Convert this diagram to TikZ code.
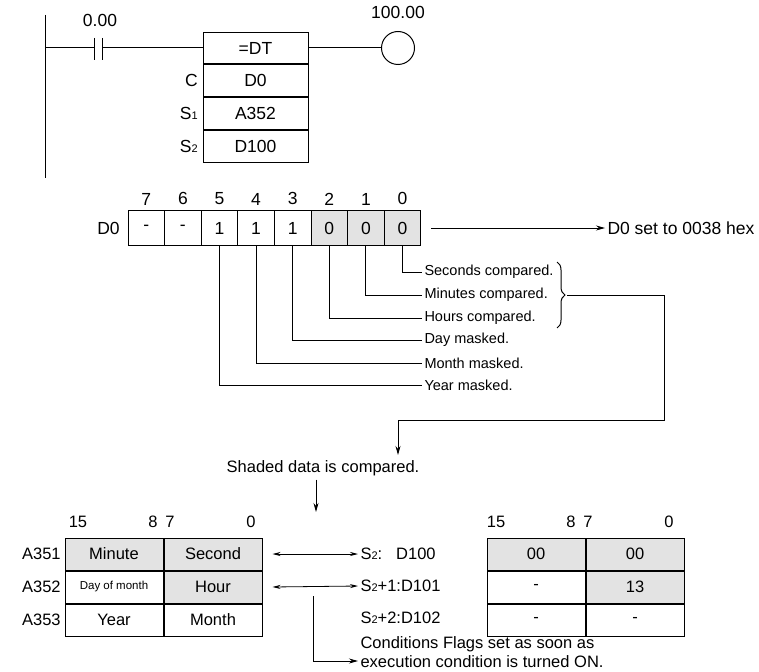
\documentclass[tikz,border=0pt]{standalone}
\usepackage{fontspec}
\setmainfont{Liberation Sans}
\usepackage{tikz}
\usetikzlibrary{arrows.meta,positioning,decorations.pathreplacing}
\newcommand{\sub}[1]{{\fontsize{11}{11}\selectfont #1}}
\begin{document}
\begin{tikzpicture}[x=1pt,y=-1pt,line width=1pt,
  every node/.style={font=\fontsize{17.5}{19}\selectfont},
  cell/.style={draw,minimum width=36.6pt,minimum height=35pt,inner sep=0pt},
  shd/.style={fill=gray!22},
  ins/.style={draw,minimum width=105pt,minimum height=31.75pt,inner sep=0pt},
  reg/.style={draw,minimum width=98pt,minimum height=32pt,inner sep=0pt,font=\fontsize{16.5}{18}\selectfont},
  sm/.style={font=\fontsize{16.5}{18}\selectfont},
  lbl/.style={anchor=west,inner sep=2pt},
  arr/.style={-{Stealth[length=9pt,width=5pt]},line width=0.8pt},
  darr/.style={{Stealth[length=8pt,width=4pt]}-{Stealth[length=8pt,width=4pt]},line width=0.8pt}]
\useasboundingbox (0,0) rectangle (759,671);
% ladder rung
\draw (45,15) -- (45,178);
\coordinate (ca) at (94,48);
\coordinate (cb) at (102,48);
\draw (45,48) -- (ca) (cb) -- (203,48);
\draw (94,38) -- (94,60) (102,38) -- (102,60);
\node at (100,20) {0.00};
\node[ins] (dt) at (255.5,48) {=DT};
\node[ins,below=0pt of dt] (c) {D0};
\node[ins,below=0pt of c] (s1) {A352};
\node[ins,below=0pt of s1] (s2) {D100};
\node[left=1pt of c] {C};
\node[left=1pt of s1] {S\sub{1}};
\node[left=1pt of s2] {S\sub{2}};
\node[draw,circle,minimum size=33pt,inner sep=0pt] (coil) at (398,48) {};
\node at (398,12) {100.00};
\draw (dt.east) -- (coil.west);
% bit register D0
\foreach \b/\v [count=\i from 0] in {7/-,6/-,5/1,4/1,3/1,2/0,1/0,0/0} {
  \ifnum\b<3
    \node[cell,shd] (b\b) at (146.3+36.6*\i,228) {\v};
  \else
    \node[cell] (b\b) at (146.3+36.6*\i,228) {\v};
  \fi
  \node[above=1pt of b\b] {\b};
}
\node[left=4pt of b7] {D0};
\coordinate (hx) at (605,228);
\draw[arr] ([xshift=10pt]b0.east) -- (hx);
\node[lbl] at (hx) {D0 set to 0038 hex};
% bit meanings
\foreach \b/\y/\t in {0/272/Seconds compared.,1/295/Minutes compared.,2/318/Hours compared.,3/340/Day masked.,4/363/Month masked.,5/385/Year masked.} {
  \node[lbl,font=\fontsize{14.5}{16}\selectfont] (m\b) at (422,\y) {\t};
  \draw (b\b.south) |- (m\b.west);
}
\draw[decorate,decoration={brace,amplitude=8pt}] (557,262) -- (557,328);
\coordinate (bt) at (567,295);
\coordinate (br) at (664,420);
\coordinate (bd) at (398,455);
\draw[arr] (bt) -| (br) -| (bd);
% compared data
\node[sm] (sh) at (323,468) {Shaded data is compared.};
\coordinate (sd) at (316,512);
\draw[arr] (sh.south -| sd) -- (sd);
\foreach \b/\x in {15/78,8/153,7/170,0/251,15/496,8/571,7/588,0/669}
  \node[sm] at (\x,522) {\b};
\node[reg,shd] (mi) at (114,554) {Minute};
\node[reg,shd,right=0pt of mi] (se) {Second};
\node[reg,below=0pt of mi,font=\fontsize{11.5}{13}\selectfont] (dm) {Day of month};
\node[reg,shd,right=0pt of dm] (ho) {Hour};
\node[reg,below=0pt of dm] (ye) {Year};
\node[reg,right=0pt of ye] (mo) {Month};
\node[sm,left=0pt of mi] {A351};
\node[sm,left=0pt of dm] {A352};
\node[sm,left=0pt of ye] {A353};
\node[reg,shd] (d1) at (536,554) {00};
\node[reg,shd,right=0pt of d1] (d2) {00};
\node[reg,below=0pt of d1] (d3) {-};
\node[reg,shd,right=0pt of d3] (d4) {13};
\node[reg,below=0pt of d3] (d5) {-};
\node[reg,right=0pt of d5] (d6) {-};
\node[lbl,sm] (r1) at (358,554) {S\sub{2}:\hspace{14pt}D100};
\node[lbl,sm] (r2) at (358,586) {S\sub{2}+1:D101};
\node[lbl,sm] (r3) at (358,618) {S\sub{2}+2:D102};
\draw[darr] ([xshift=10pt]se.east) -- (r1.west);
\draw[darr] ([xshift=10pt]ho.east) -- (r2.west);
\coordinate (cf) at (313,596);
\node[lbl,align=left,font=\fontsize{16.5}{19}\selectfont] (fl) at (358,652) {Conditions Flags set as soon as\\execution condition is turned ON.};
\draw[arr] (cf) |- ([yshift=-9pt]fl.west);
\end{tikzpicture}
\end{document}
